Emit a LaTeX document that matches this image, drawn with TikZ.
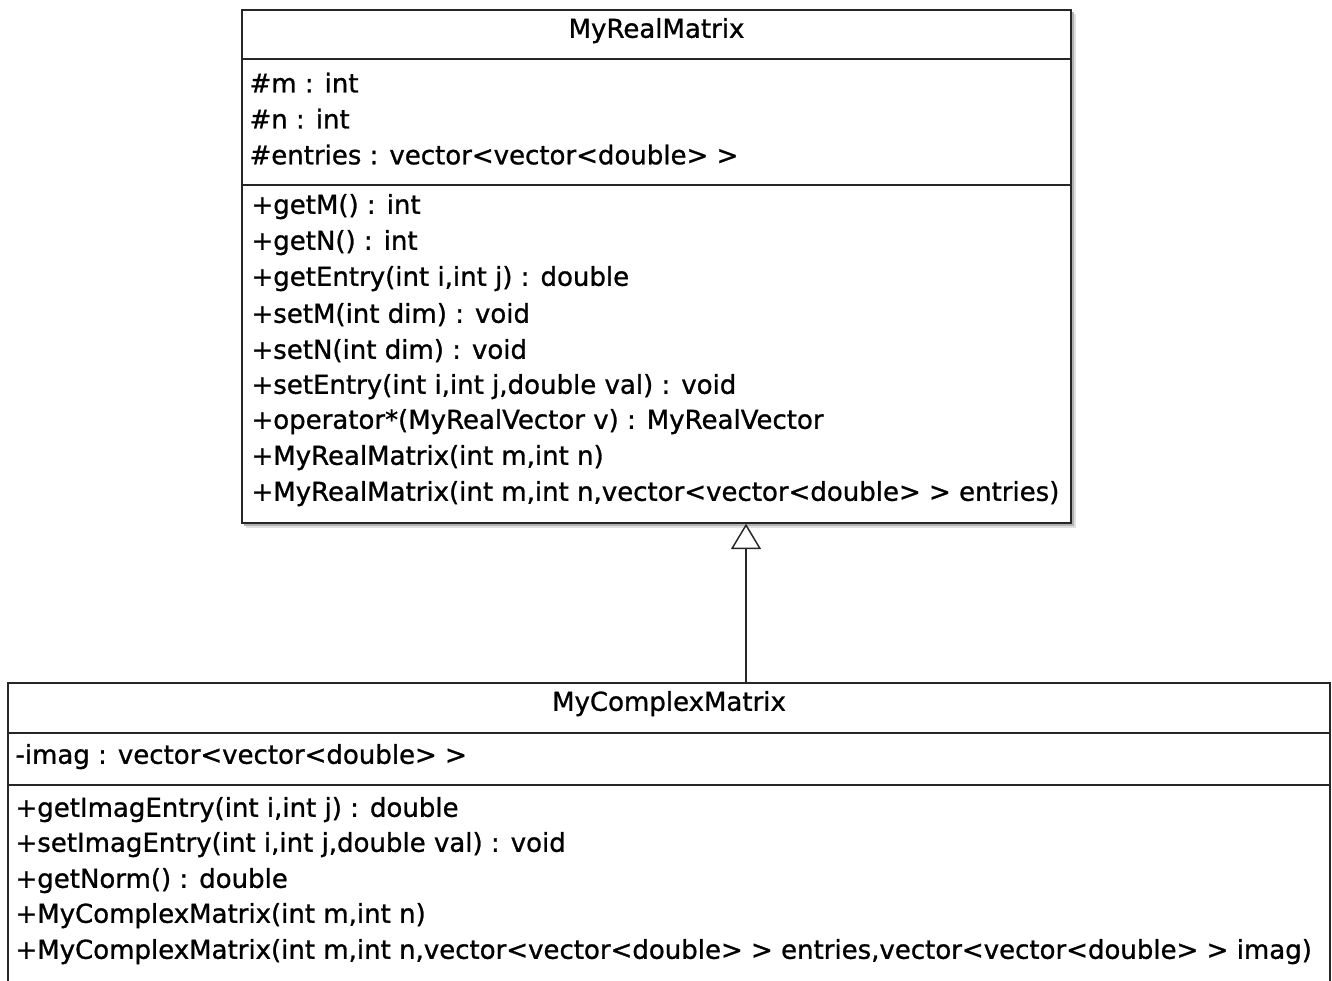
\documentclass[tikz,border=0pt]{standalone}
\usepackage{fontspec}
\newfontfamily\umlfont{DejaVu Sans}[FakeBold=1]
\usetikzlibrary{arrows.meta,fit}

\tikzset{every picture/.style={line width=0.75pt}}
\tikzset{
  classbox/.style={draw=black!85, fill=white, line width=1.1pt, inner sep=0pt},
  member/.style={anchor=west, inner sep=0.75pt, yshift=-1.2pt, font=\umlfont\fontsize{19.5}{22}\selectfont, align=left},
  classname/.style={inner sep=0.75pt, yshift=-1.2pt, font=\umlfont\fontsize{19.5}{22}\selectfont},
  divider/.style={draw=black!85, line width=1.1pt}
}

\begin{document}
\begin{tikzpicture}[x=0.75pt,y=0.75pt,yscale=-1,xscale=1]
\useasboundingbox (0,0) rectangle (1332,981);
\clip (0,0) rectangle (1332,981);

%Shape: MyRealMatrix class, with its shadow
\fill [black!12] (246,14) rectangle (1076,528);
\fill [black!30] (244,12) rectangle (1074,526);
\path (242,10) coordinate (realNW) (1071,523) coordinate (realSE);
\node (real) [classbox, fit=(realNW)(realSE)] {};
\draw [divider] (real.west |- 0,59) -- (real.east |- 0,59);
\draw [divider] (real.west |- 0,185) -- (real.east |- 0,185);

% Text Node
\node (realName) [classname] at (656.5,29) {MyRealMatrix};
% Text Node
\node (realM) [member] at (248,81) {\#m : int};
\node (realN) [member] at (248,117) {\#n : int};
\node (realEntries) [member] at (248,153) {\#entries : vector<vector<double> >};
% Text Node
\node (getM) [member] at (250,205) {+getM() : int};
\node (getN) [member] at (250,241) {+getN() : int};
\node (getEntry) [member] at (250,277) {+getEntry(int i,int j) : double};
\node (setM) [member] at (250,313) {+setM(int dim) : void};
\node (setN) [member] at (250,349) {+setN(int dim) : void};
\node (setEntry) [member] at (250,385) {+setEntry(int i,int j,double val) : void};
\node (opMul) [member] at (250,420) {+operator*(MyRealVector v) : MyRealVector};
\node (realCtorA) [member] at (250,456) {+MyRealMatrix(int m,int n)};
\node (realCtorB) [member] at (250,492) {+MyRealMatrix(int m,int n,vector<vector<double> > entries)};

%Shape: MyComplexMatrix class
\path (8,683) coordinate (cplxNW) (1330,1000) coordinate (cplxSE);
\node (cplx) [classbox, fit=(cplxNW)(cplxSE)] {};
\draw [divider] (cplx.west |- 0,733) -- (cplx.east |- 0,733);
\draw [divider] (cplx.west |- 0,785) -- (cplx.east |- 0,785);

% Text Node
\node (cplxName) [classname] at (669,702) {MyComplexMatrix};
% Text Node
\node (cplxImag) [member] at (14,755) {-imag : vector<vector<double> >};
% Text Node
\node (getImag) [member] at (14,808) {+getImagEntry(int i,int j) : double};
\node (setImag) [member] at (14,843) {+setImagEntry(int i,int j,double val) : void};
\node (getNorm) [member] at (14,879) {+getNorm() : double};
\node (cplxCtorA) [member] at (14,914) {+MyComplexMatrix(int m,int n)};
\node (cplxCtorB) [member] at (14,950) {+MyComplexMatrix(int m,int n,vector<vector<double> > entries,vector<vector<double> > imag)};

%Straight Lines: generalization
\coordinate (gen) at (746,683);
\draw [-{Triangle[open,length=19pt,width=22.5pt,line width=1.1pt]}, line width=1.1pt, black!85]
  (cplx.north -| gen) -- (real.south -| gen);

\end{tikzpicture}
\end{document}
